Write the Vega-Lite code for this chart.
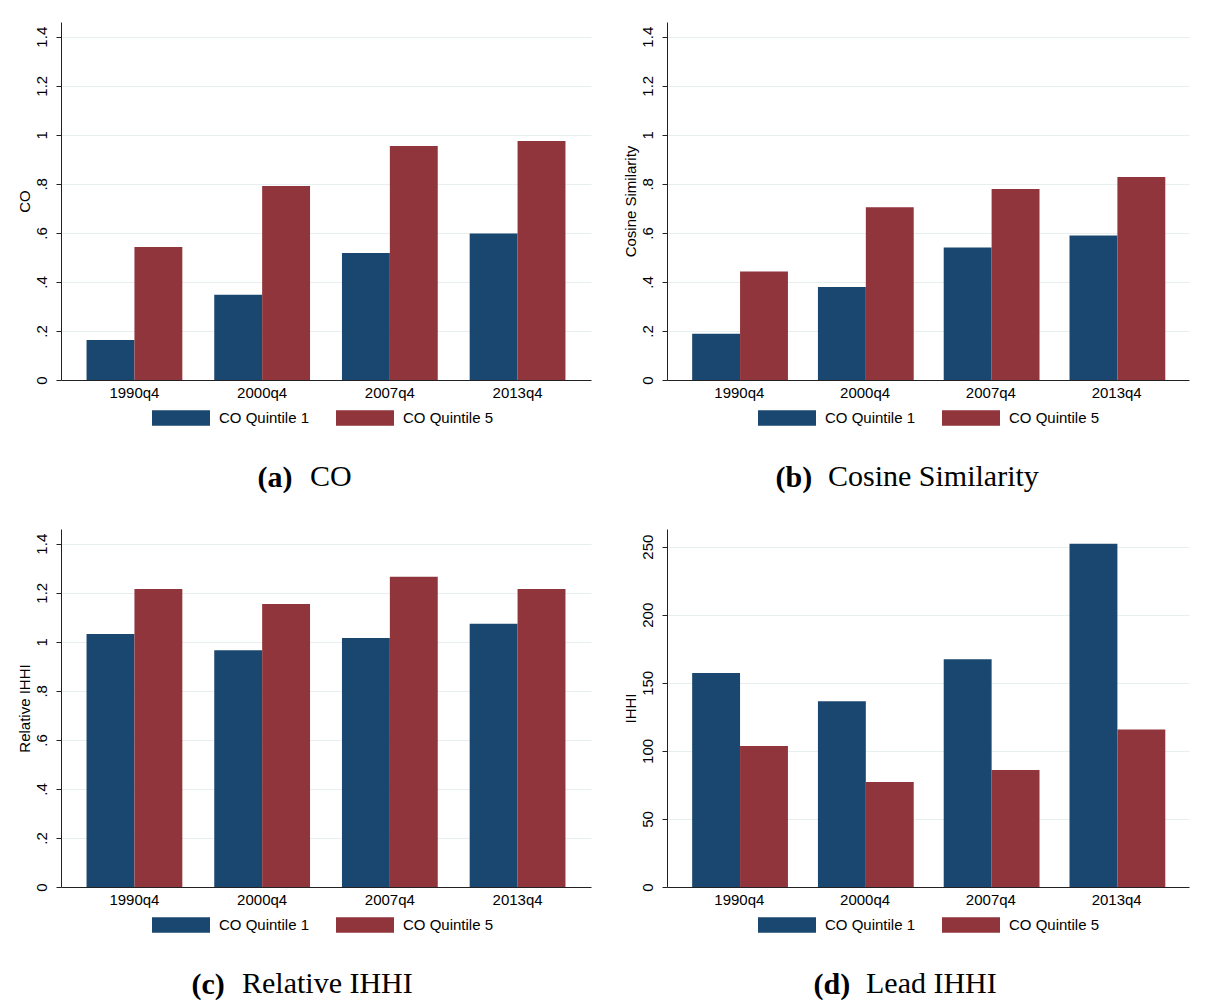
{
  "$schema": "https://vega.github.io/schema/vega-lite/v6.json",
  "background": "white",
  "padding": {"left": 17, "top": 22, "right": 5, "bottom": 5},
  "datasets": {
    "a": [
      {"period": "1990q4", "group": "CO Quintile 1", "value": 0.163},
      {"period": "1990q4", "group": "CO Quintile 5", "value": 0.542},
      {"period": "2000q4", "group": "CO Quintile 1", "value": 0.348},
      {"period": "2000q4", "group": "CO Quintile 5", "value": 0.791},
      {"period": "2007q4", "group": "CO Quintile 1", "value": 0.518},
      {"period": "2007q4", "group": "CO Quintile 5", "value": 0.954},
      {"period": "2013q4", "group": "CO Quintile 1", "value": 0.597},
      {"period": "2013q4", "group": "CO Quintile 5", "value": 0.975}
    ],
    "b": [
      {"period": "1990q4", "group": "CO Quintile 1", "value": 0.189},
      {"period": "1990q4", "group": "CO Quintile 5", "value": 0.442},
      {"period": "2000q4", "group": "CO Quintile 1", "value": 0.379},
      {"period": "2000q4", "group": "CO Quintile 5", "value": 0.705},
      {"period": "2007q4", "group": "CO Quintile 1", "value": 0.540},
      {"period": "2007q4", "group": "CO Quintile 5", "value": 0.779},
      {"period": "2013q4", "group": "CO Quintile 1", "value": 0.589},
      {"period": "2013q4", "group": "CO Quintile 5", "value": 0.828}
    ],
    "c": [
      {"period": "1990q4", "group": "CO Quintile 1", "value": 1.032},
      {"period": "1990q4", "group": "CO Quintile 5", "value": 1.215},
      {"period": "2000q4", "group": "CO Quintile 1", "value": 0.966},
      {"period": "2000q4", "group": "CO Quintile 5", "value": 1.154},
      {"period": "2007q4", "group": "CO Quintile 1", "value": 1.015},
      {"period": "2007q4", "group": "CO Quintile 5", "value": 1.265},
      {"period": "2013q4", "group": "CO Quintile 1", "value": 1.074},
      {"period": "2013q4", "group": "CO Quintile 5", "value": 1.215}
    ],
    "d": [
      {"period": "1990q4", "group": "CO Quintile 1", "value": 157.3},
      {"period": "1990q4", "group": "CO Quintile 5", "value": 103.5},
      {"period": "2000q4", "group": "CO Quintile 1", "value": 136.5},
      {"period": "2000q4", "group": "CO Quintile 5", "value": 77.1},
      {"period": "2007q4", "group": "CO Quintile 1", "value": 167.3},
      {"period": "2007q4", "group": "CO Quintile 5", "value": 85.9},
      {"period": "2013q4", "group": "CO Quintile 1", "value": 252.2},
      {"period": "2013q4", "group": "CO Quintile 5", "value": 115.7}
    ]
  },
  "vconcat": [
    {
      "hconcat": [
        {
          "width": 530, "height": 358,
          "data": {"name": "a"},
          "title": {"text": "CO", "dx": 249},
          "mark": {"type": "bar"},
          "encoding": {
            "x": {"field": "period", "type": "nominal", "sort": null, "scale": {"paddingInner": 0.25, "paddingOuter": 0.2}, "axis": {"title": "(a)", "titleX": 196}},
            "xOffset": {"field": "group", "type": "nominal", "sort": null, "scale": {"paddingInner": 0, "paddingOuter": 0}},
            "y": {"field": "value", "type": "quantitative", "scale": {"domain": [0, 1.46], "nice": false}, "axis": {"title": "CO", "values": [0, 0.2, 0.4, 0.6, 0.8, 1, 1.2, 1.4], "labelExpr": "datum.value > 0 && datum.value < 1 ? slice(format(datum.value, '.1f'), 1) : format(datum.value, '~g')"}},
            "color": {"field": "group", "type": "nominal", "scale": {"domain": ["CO Quintile 1", "CO Quintile 5"], "range": ["#1a476f", "#90353b"]}, "legend": {"orient": "none", "legendX": 91, "legendY": 367}}
          }
        },
        {
          "width": 522, "height": 358,
          "data": {"name": "b"},
          "title": {"text": "Cosine Similarity", "dx": 161},
          "mark": {"type": "bar"},
          "encoding": {
            "x": {"field": "period", "type": "nominal", "sort": null, "scale": {"paddingInner": 0.25, "paddingOuter": 0.2}, "axis": {"title": "(b)", "titleX": 108}},
            "xOffset": {"field": "group", "type": "nominal", "sort": null, "scale": {"paddingInner": 0, "paddingOuter": 0}},
            "y": {"field": "value", "type": "quantitative", "scale": {"domain": [0, 1.46], "nice": false}, "axis": {"title": "Cosine Similarity", "values": [0, 0.2, 0.4, 0.6, 0.8, 1, 1.2, 1.4], "labelExpr": "datum.value > 0 && datum.value < 1 ? slice(format(datum.value, '.1f'), 1) : format(datum.value, '~g')"}},
            "color": {"field": "group", "type": "nominal", "scale": {"domain": ["CO Quintile 1", "CO Quintile 5"], "range": ["#1a476f", "#90353b"]}, "legend": {"orient": "none", "legendX": 91, "legendY": 367}}
          }
        }
      ],
      "spacing": 32,
      "resolve": {"scale": {"color": "independent", "y": "independent", "x": "independent"}, "legend": {"color": "independent"}}
    },
    {
      "hconcat": [
        {
          "width": 530, "height": 358,
          "data": {"name": "c"},
          "title": {"text": "Relative IHHI", "dx": 181},
          "mark": {"type": "bar"},
          "encoding": {
            "x": {"field": "period", "type": "nominal", "sort": null, "scale": {"paddingInner": 0.25, "paddingOuter": 0.2}, "axis": {"title": "(c)", "titleX": 130}},
            "xOffset": {"field": "group", "type": "nominal", "sort": null, "scale": {"paddingInner": 0, "paddingOuter": 0}},
            "y": {"field": "value", "type": "quantitative", "scale": {"domain": [0, 1.46], "nice": false}, "axis": {"title": "Relative IHHI", "values": [0, 0.2, 0.4, 0.6, 0.8, 1, 1.2, 1.4], "labelExpr": "datum.value > 0 && datum.value < 1 ? slice(format(datum.value, '.1f'), 1) : format(datum.value, '~g')"}},
            "color": {"field": "group", "type": "nominal", "scale": {"domain": ["CO Quintile 1", "CO Quintile 5"], "range": ["#1a476f", "#90353b"]}, "legend": {"orient": "none", "legendX": 91, "legendY": 367}}
          }
        },
        {
          "width": 522, "height": 358,
          "data": {"name": "d"},
          "title": {"text": "Lead IHHI", "dx": 199},
          "mark": {"type": "bar"},
          "encoding": {
            "x": {"field": "period", "type": "nominal", "sort": null, "scale": {"paddingInner": 0.25, "paddingOuter": 0.2}, "axis": {"title": "(d)", "titleX": 146}},
            "xOffset": {"field": "group", "type": "nominal", "sort": null, "scale": {"paddingInner": 0, "paddingOuter": 0}},
            "y": {"field": "value", "type": "quantitative", "scale": {"domain": [0, 263], "nice": false}, "axis": {"title": "IHHI", "values": [0, 50, 100, 150, 200, 250]}},
            "color": {"field": "group", "type": "nominal", "scale": {"domain": ["CO Quintile 1", "CO Quintile 5"], "range": ["#1a476f", "#90353b"]}, "legend": {"orient": "none", "legendX": 91, "legendY": 367}}
          }
        }
      ],
      "spacing": 32,
      "resolve": {"scale": {"color": "independent", "y": "independent", "x": "independent"}, "legend": {"color": "independent"}}
    }
  ],
  "spacing": 37,
  "resolve": {"scale": {"color": "independent", "y": "independent", "x": "independent"}, "legend": {"color": "independent"}},
  "config": {
    "view": {"stroke": null},
    "axis": {"labelFont": "Liberation Sans", "labelFontSize": 15, "labelColor": "#000", "titleFont": "Liberation Sans", "titleFontSize": 15, "titleFontWeight": "normal", "titleColor": "#000", "domainColor": "#222", "tickColor": "#222", "gridColor": "#e6eef0", "gridWidth": 1},
    "axisX": {"ticks": false, "grid": false, "labelPadding": 5, "labelAngle": 0, "titleY": 106, "titleAlign": "left", "titleBaseline": "alphabetic", "titleAngle": 0, "titleFont": "Liberation Serif", "titleFontSize": 30, "titleFontWeight": "bold"},
    "axisY": {"tickSize": 5, "labelAngle": -90, "labelAlign": "center", "labelBaseline": "alphabetic", "labelPadding": 10, "titlePadding": 2, "grid": true},
    "legend": {"title": null, "direction": "horizontal", "padding": 0, "symbolType": "M-1,-0.27L1,-0.27L1,0.27L-1,0.27Z", "symbolSize": 3364, "symbolStrokeWidth": 0, "symbolOpacity": 1, "labelFont": "Liberation Sans", "labelFontSize": 15, "labelColor": "#000", "labelOffset": 9, "columnPadding": 26},
    "title": {"orient": "bottom", "anchor": "start", "frame": "group", "offset": -30, "baseline": "top", "font": "Liberation Serif", "fontSize": 30, "fontWeight": "normal", "color": "#000"}
  }
}
